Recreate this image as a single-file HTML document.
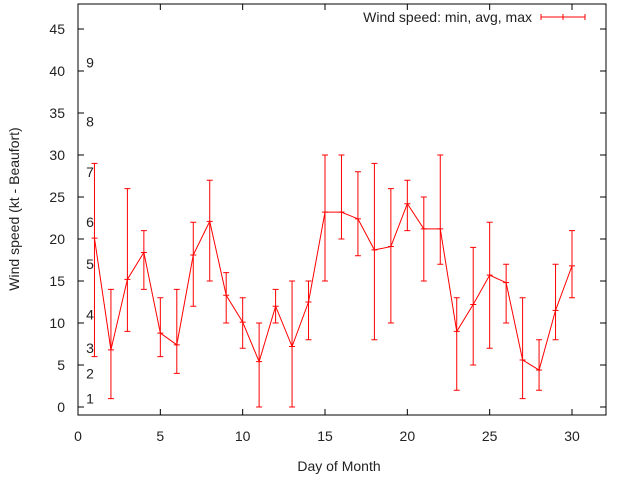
<!DOCTYPE html>
<html><head><meta charset="utf-8"><style>
body{margin:0;background:#fff}
svg text{font-family:"Liberation Sans",sans-serif;font-size:14px;fill:#222}
</style></head><body>
<svg width="640" height="480" xmlns="http://www.w3.org/2000/svg">
<g id="axes"></g>
<g id="beaufort"></g>
<g id="series"></g>
<rect x="78" y="4" width="528" height="411" fill="none" stroke="#000"/>
<text x="339" y="471" text-anchor="middle">Day of Month</text>
<text transform="translate(19,209) rotate(-90)" text-anchor="middle">Wind speed (kt - Beaufort)</text>
<g>
<text x="532" y="22" text-anchor="end">Wind speed: min, avg, max</text>
<path d="M541 17H585M541 14V20M585 14V20M563 14V20" stroke="#f00" fill="none"/>
</g>
</svg>
<script>
const days=[1,2,3,4,5,6,7,8,9,10,11,12,13,14,15,16,17,18,19,20,21,22,23,24,25,26,27,28,29,30];
const avgVals=[20.1,6.8,15.2,18.4,8.8,7.4,18.1,22.1,13.3,10.1,5.4,12,7.2,12.5,23.2,23.2,22.4,18.7,19.1,24.2,21.2,21.2,9,12.2,15.7,14.8,5.6,4.4,11.5,16.8];
const minVals=[6,1,9,14,6,4,12,15,10,7,0,10,0,8,15,20,18,8,10,21,15,17,2,5,7,10,1,2,8,13];
const maxVals=[29,14,26,21,13,14,22,27,16,13,10,14,15,15,30,30,28,29,26,27,25,30,13,19,22,17,13,8,17,21];
const xTicks=[0,5,10,15,20,25,30];
const yTicks=[0,5,10,15,20,25,30,35,40,45];
const beaufortNums=["1","2","3","4","5","6","7","8","9"];
const beaufortKt=[1,4,7,11,17,22,28,34,41];
const NS="http://www.w3.org/2000/svg";
const X=v=>78+v*494/30;
const Y=v=>407-v*8.4;
function mk(t,a,p){const e=document.createElementNS(NS,t);for(const k in a)e.setAttribute(k,a[k]);p.appendChild(e);return e;}
const ax=document.getElementById('axes');
xTicks.forEach(t=>{
 const g=mk('g',{},ax);
 
 
 mk('path',{d:`M${X(t)} 415v-6M${X(t)} 4v6`,stroke:'#000'},g);
 const tx=mk('text',{x:X(t),y:441,'text-anchor':'middle'},g);tx.textContent=t;
});
yTicks.forEach(t=>{
 const g=mk('g',{},ax);
 
 
 mk('path',{d:`M78 ${Y(t)}h6M606 ${Y(t)}h-6`,stroke:'#000'},g);
 const tx=mk('text',{x:65,y:Y(t)+5,'text-anchor':'end'},g);tx.textContent=t;
});
const bf=document.getElementById('beaufort');
beaufortNums.forEach((n,i)=>{
 const tx=mk('text',{x:90,y:Y(beaufortKt[i])+5,'text-anchor':'middle'},bf);
 
 
 tx.textContent=n;
});
const s=document.getElementById('series');
const line=mk('polyline',{points:days.map((d,i)=>X(d)+','+Y(avgVals[i])).join(' '),fill:'none',stroke:'#f00'},s);


days.forEach((d,i)=>{
 const x=X(d),lo=Y(minVals[i]),hi=Y(maxVals[i]),a=Y(avgVals[i]);
 const p=mk('path',{d:`M${x} ${lo}V${hi}M${x-3} ${lo}h6M${x-3} ${hi}h6M${x-3} ${a}h6`,stroke:'#f00',fill:'none'},s);
 
 
});
</script>
</body></html>
